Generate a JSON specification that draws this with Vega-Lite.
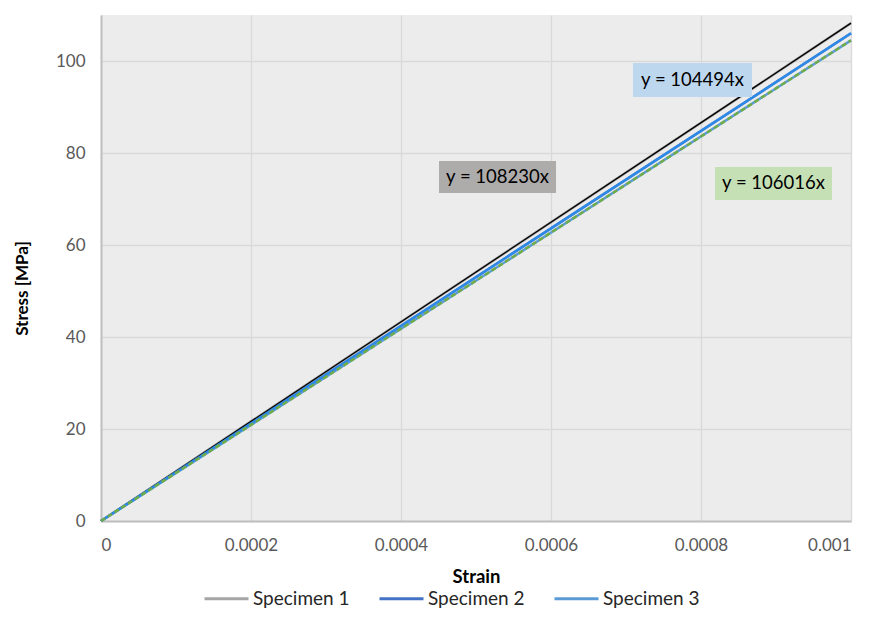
{
  "$schema": "https://vega.github.io/schema/vega-lite/v6.json",
  "width": 750,
  "height": 506,
  "autosize": {"type": "none"},
  "padding": {"left": 101, "top": 15, "right": 22, "bottom": 104},
  "background": "white",
  "config": {
    "font": "Lato",
    "view": {"fill": "#ececec", "stroke": null},
    "axis": {
      "labelFont": "Lato", "labelFontSize": 17, "labelColor": "#595959",
      "titleFont": "Lato", "titleFontSize": 18.5, "titleFontWeight": "bold", "titleColor": "#000000",
      "gridColor": "#d9d9d9", "gridWidth": 1.3, "domainColor": "#bfbfbf", "domainWidth": 2, "ticks": false
    }
  },
  "datasets": {
    "lines": [
      {"strain": 0, "stress": 0, "series": "Specimen 1"},
      {"strain": 0.001, "stress": 108.23, "series": "Specimen 1"},
      {"strain": 0, "stress": 0, "series": "Specimen 2"},
      {"strain": 0.001, "stress": 106.016, "series": "Specimen 2"},
      {"strain": 0, "stress": 0, "series": "Specimen 3"},
      {"strain": 0.001, "stress": 104.494, "series": "Specimen 3"}
    ],
    "boxes": [
      {"x1": 0.0004507, "x2": 0.0006067, "y1": 71.3, "y2": 78.26, "xc": 0.0005287, "yc": 74.8, "label": "y = 108230x", "fill": "#aeabab"},
      {"x1": 0.0007093, "x2": 0.000868, "y1": 92.17, "y2": 99.57, "xc": 0.0007887, "yc": 95.9, "label": "y = 104494x", "fill": "#bdd7ee"},
      {"x1": 0.0008187, "x2": 0.0009747, "y1": 69.78, "y2": 76.96, "xc": 0.0008967, "yc": 73.4, "label": "y = 106016x", "fill": "#c5e0b4"}
    ]
  },
  "layer": [
    {
      "data": {"name": "lines"},
      "mark": {"type": "line", "strokeWidth": 2.5},
      "encoding": {
        "x": {"field": "strain", "type": "quantitative", "scale": {"domain": [0, 0.001], "nice": false}, "axis": {"values": [0, 0.0002, 0.0004, 0.0006, 0.0008, 0.001], "format": "~g", "title": "Strain", "labelPadding": 16, "titlePadding": 14}},
        "y": {"field": "stress", "type": "quantitative", "scale": {"domain": [0, 110], "nice": false}, "axis": {"values": [0, 20, 40, 60, 80, 100], "title": "Stress [MPa]", "titleFontSize": 17, "labelPadding": 16, "titleX": -79, "titleY": 273, "titleBaseline": "middle", "titleAlign": "center"}},
        "color": {"field": "series", "type": "nominal", "scale": {"domain": ["Specimen 1", "Specimen 2", "Specimen 3"], "range": ["#a5a5a5", "#4472c4", "#5b9bd5"]},
          "legend": {"title": null, "orient": "none", "direction": "horizontal", "legendX": 102, "legendY": 560, "symbolType": "stroke", "symbolSize": 1936, "symbolStrokeWidth": 3, "labelFontSize": 19, "labelFont": "Lato", "labelColor": "#262626", "labelOffset": 3, "columnPadding": 23}}
      }
    },
    {
      "data": {"name": "lines"},
      "transform": [{"filter": "datum.series === 'Specimen 1'"}],
      "mark": {"type": "line", "color": "#000000", "strokeWidth": 1.3},
      "encoding": {
        "x": {"field": "strain", "type": "quantitative"},
        "y": {"field": "stress", "type": "quantitative"}
      }
    },
    {
      "data": {"name": "lines"},
      "transform": [{"filter": "datum.series === 'Specimen 2'"}],
      "mark": {"type": "line", "color": "#2e8ae6", "strokeWidth": 2.5},
      "encoding": {
        "x": {"field": "strain", "type": "quantitative"},
        "y": {"field": "stress", "type": "quantitative"}
      }
    },
    {
      "data": {"name": "lines"},
      "transform": [{"filter": "datum.series === 'Specimen 3'"}],
      "mark": {"type": "line", "color": "#70ad47", "strokeWidth": 2.5, "strokeDash": [5, 3]},
      "encoding": {
        "x": {"field": "strain", "type": "quantitative"},
        "y": {"field": "stress", "type": "quantitative"}
      }
    },
    {
      "data": {"name": "boxes"},
      "mark": {"type": "rect"},
      "encoding": {
        "x": {"field": "x1", "type": "quantitative"},
        "x2": {"field": "x2"},
        "y": {"field": "y1", "type": "quantitative"},
        "y2": {"field": "y2"},
        "fill": {"field": "fill", "type": "nominal", "scale": null}
      }
    },
    {
      "data": {"name": "boxes"},
      "mark": {"type": "text", "font": "Lato", "fontSize": 18.5, "color": "#000000"},
      "encoding": {
        "x": {"field": "xc", "type": "quantitative"},
        "y": {"field": "yc", "type": "quantitative"},
        "text": {"field": "label"}
      }
    }
  ]
}
